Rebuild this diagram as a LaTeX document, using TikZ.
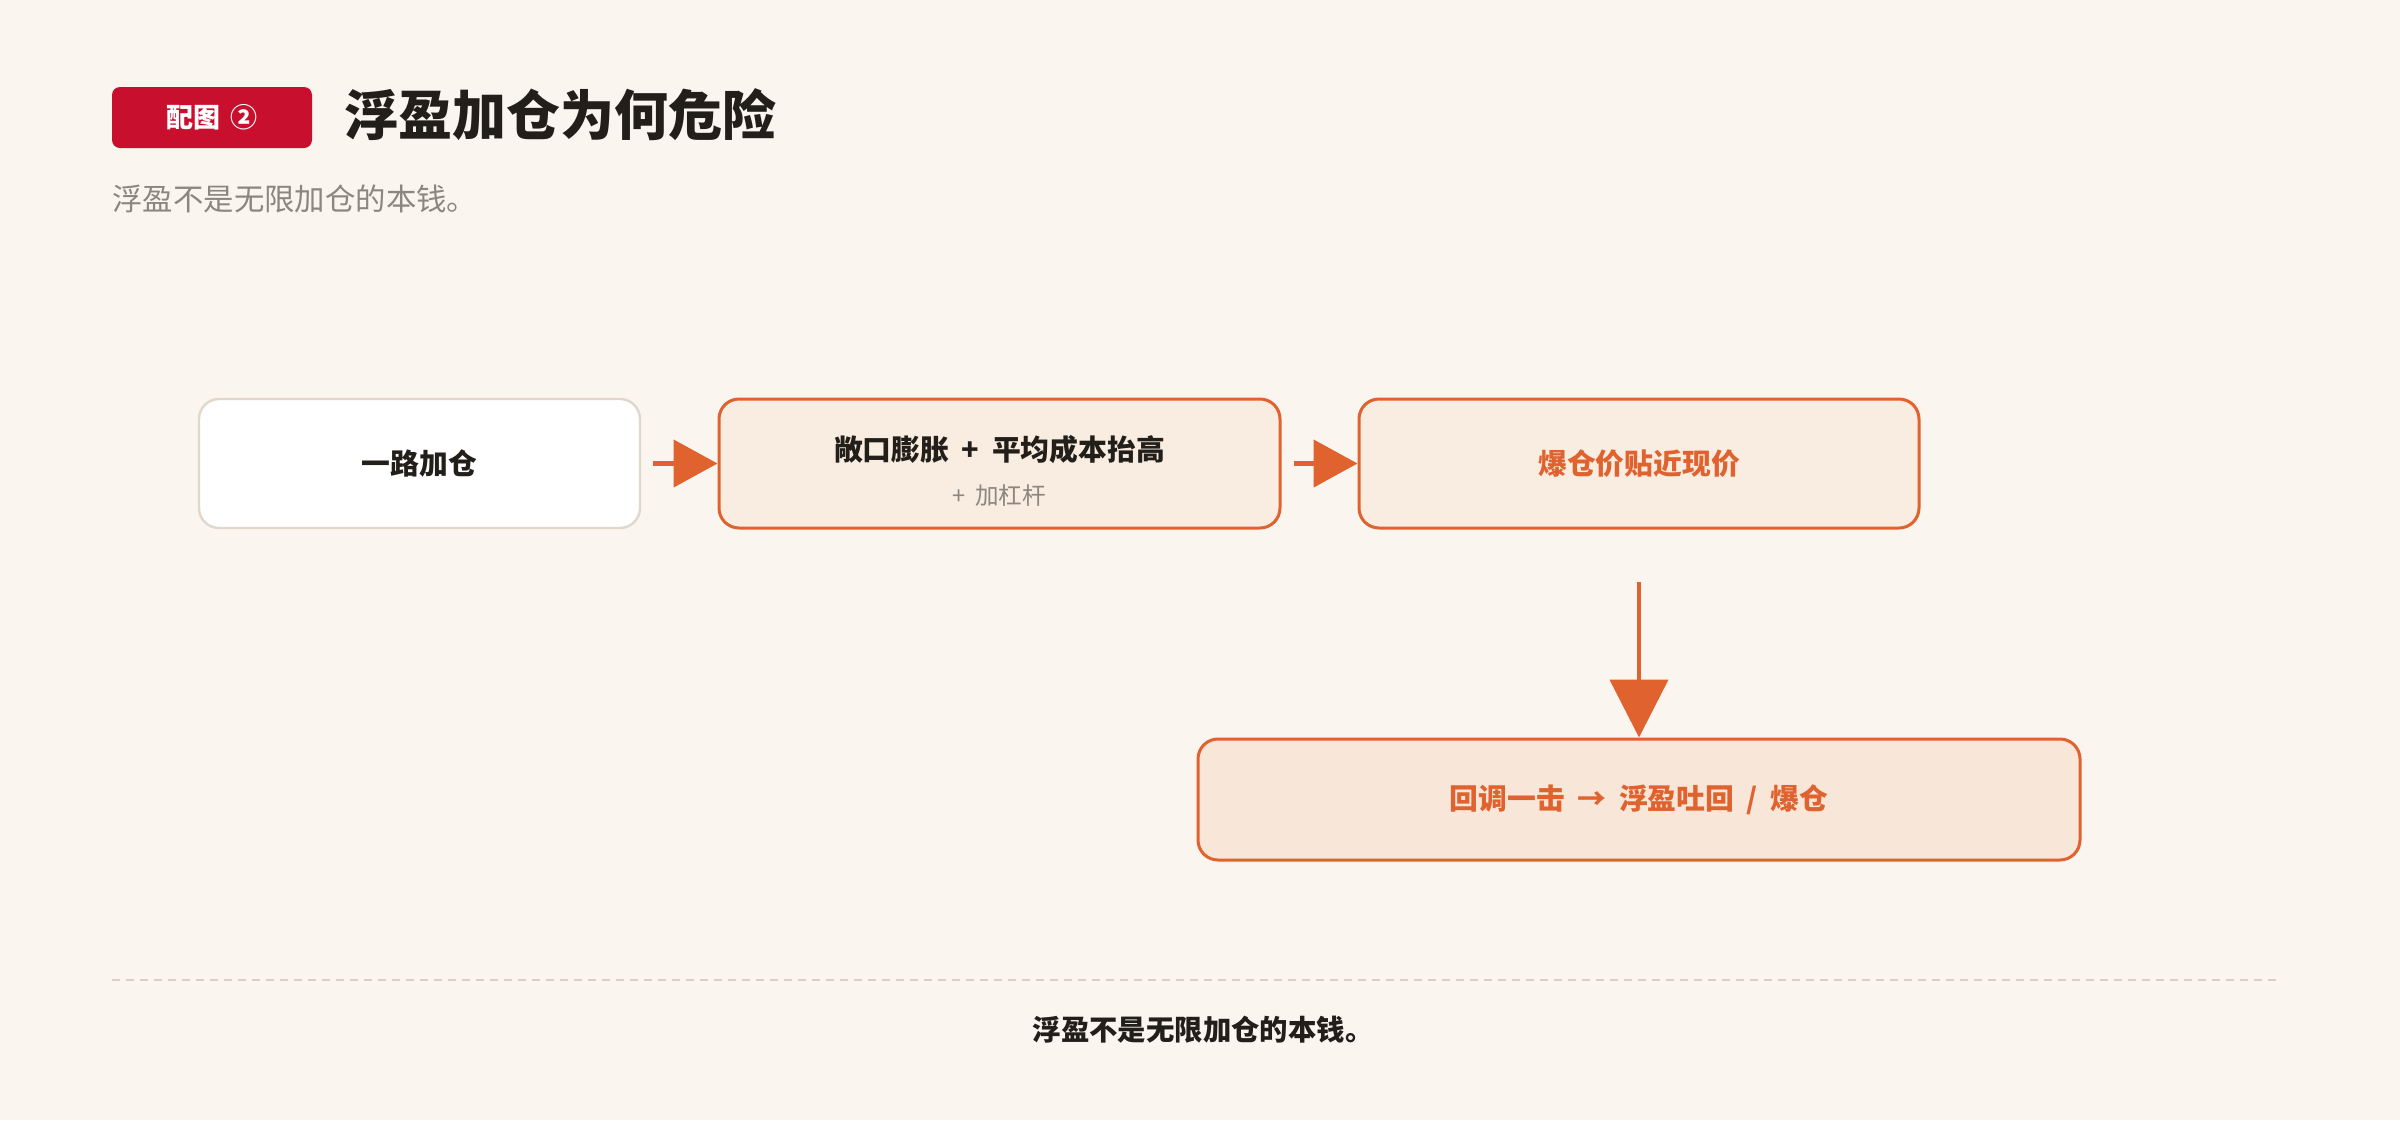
\documentclass[tikz,border=0pt]{standalone}
\usepackage{fontspec}
\setmainfont{Noto Sans CJK SC}
\usetikzlibrary{arrows.meta}
\definecolor{bg}{HTML}{FAF5EE}
\definecolor{badgered}{HTML}{C8102E}
\definecolor{ink}{HTML}{221F1A}
\definecolor{subgray}{HTML}{8B8680}
\definecolor{orng}{HTML}{E0622E}
\definecolor{boxfill}{HTML}{F9ECE0}
\definecolor{boxfilldk}{HTML}{F8E6D8}
\definecolor{plainedge}{HTML}{E0D8CD}
\definecolor{dashgray}{HTML}{D6D0C8}
\newcommand{\fsz}[1]{\fontsize{#1pt}{#1pt}\selectfont}
\begin{document}
\begin{tikzpicture}[x=0.5pt,y=-0.5pt,
  flowbox/.style={draw=orng, line width=1.5pt, fill=boxfill, rounded corners=10pt,
    minimum height=64.5pt, inner sep=0pt},
  plainbox/.style={draw=plainedge, line width=1.2pt, fill=white, rounded corners=10pt,
    minimum height=64.5pt, minimum width=220.5pt, inner sep=0pt},
  harr/.style={draw=orng, line width=2.25pt, -{Triangle[length=22pt,width=23.5pt]}},
  varr/.style={draw=orng, line width=2.25pt, -{Triangle[length=29pt,width=29pt]}},
  boxtext/.style={font=\fsz{14.4}\bfseries, text=ink},
  orangetext/.style={font=\fsz{14.4}\bfseries, text=orng}]
\fill[bg] (0,0) rectangle (2400,1120);
\useasboundingbox (0,0) rectangle (2400,1120);
% header
\node[fill=badgered, rounded corners=4pt, minimum width=100pt, minimum height=30.5pt,
  inner sep=0pt, text=white, font=\fsz{13.5}\bfseries] (badge) at (212,117.5) {配图\hspace{2pt} ②};
\node[anchor=west, inner sep=0pt, text=ink, font=\fsz{27}\bfseries] (title) at (344,115) {浮盈加仓为何危险};
\node[anchor=west, inner sep=0pt, text=subgray, font=\fsz{15.2}] (subtitle) at (112,199) {浮盈不是无限加仓的本钱。};
% boxes
\node[plainbox, boxtext] (b1) at (419.5,463.5) {一路加仓};
\node[flowbox, minimum width=280.5pt] (b2) at (999.5,463.5) {};
\node[boxtext, inner sep=0pt] (b2main) at (999.5,450) {敞口膨胀\hspace{3pt} + \hspace{3pt}平均成本抬高};
\node[inner sep=0pt, text=subgray, font=\fsz{11.8}] (b2sub) at (999.5,496) {+\hspace{2pt} 加杠杆};
\node[flowbox, minimum width=280pt, orangetext] (b3) at (1639,463.5) {爆仓价贴近现价};
\node[flowbox, fill=boxfilldk, minimum width=441pt, minimum height=60.5pt, orangetext] (b4) at (1639,799.5)
  {回调一击\hspace{3pt} → \hspace{3pt}浮盈吐回\hspace{3pt} / \hspace{3pt}爆仓};
% arrows
\draw[harr] ([xshift=6pt]b1.east) -- (b2.west);
\draw[harr] ([xshift=6pt]b2.east) -- (b3.west);
\draw[varr] ([yshift=-26pt]b3.south) -- (b4.north);
% footer
\coordinate (dl1) at (112,980);
\coordinate (dl2) at (2281,980);
\draw[dashgray, line width=1pt, dash pattern=on 4pt off 3pt] (dl1) -- (dl2);
\node[inner sep=0pt, text=ink, font=\fsz{14.2}\bfseries] (foot) at (1203,1030) {浮盈不是无限加仓的本钱。};
\end{tikzpicture}
\end{document}
